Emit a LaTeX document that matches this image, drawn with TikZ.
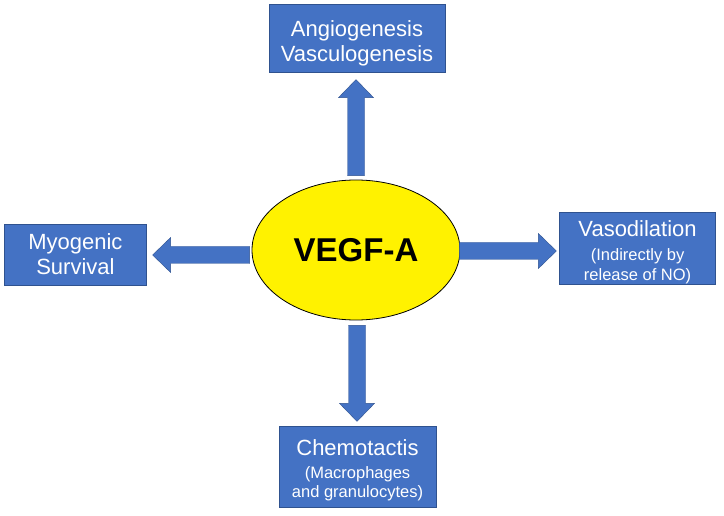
\documentclass[tikz,border=0pt]{standalone}
\usepackage{fontspec}
\setmainfont{Liberation Sans}
\usetikzlibrary{calc,positioning,shapes.geometric}
\definecolor{boxblue}{HTML}{4472C4}
\definecolor{boxline}{HTML}{2F528F}
\newcommand\bigtxt{\fontsize{22}{25}\selectfont}
\newcommand\subtxt{\fontsize{16.5}{19}\selectfont}
\tikzset{
    effect/.style={
        rectangle,
        fill=boxblue,
        draw=boxline, thin,
        text=white,
        align=center,
        inner sep=0pt,
        font=\bigtxt
    },
    center/.style={
        ellipse,
        fill=yellow,
        draw=black, thick,
        minimum width=208pt,
        minimum height=140pt,
        inner sep=0pt,
        font=\fontsize{33}{36}\selectfont\bfseries
    },
    fatarrow/.style={fill=boxblue, draw=boxline, thin}
}
% block arrow from #1 to #2
\newcommand\fatarrow[2]{%
    \coordinate (#1-h) at ($(#2)!18pt!(#1)$);
    \draw[fatarrow] ($(#1)!8.5pt!90:(#2)$) -- ($(#1-h)!8.5pt!-90:(#1)$)
        -- ($(#1-h)!17.5pt!-90:(#1)$) -- (#2) -- ($(#1-h)!17.5pt!90:(#1)$)
        -- ($(#1-h)!8.5pt!90:(#1)$) -- ($(#1)!8.5pt!-90:(#2)$) -- cycle;}
\begin{document}
\begin{tikzpicture}
    \useasboundingbox (0,0) rectangle (724pt,-516pt);

    \node[center] (vegf) at (356pt,-250pt) {VEGF-A};

    \node[effect, minimum width=176pt, minimum height=68pt, above=107pt of vegf, xshift=1pt] (angio)
        {\rule{0pt}{26pt}Angiogenesis\\Vasculogenesis};
    \node[effect, minimum width=142pt, minimum height=61pt, left=105pt of vegf, yshift=-4.5pt] (myo)
        {Myogenic\\Survival};
    \node[effect, minimum width=156pt, minimum height=72pt, right=99pt of vegf, yshift=2pt] (vaso)
        {\rule{0pt}{25pt}Vasodilation\\[-1pt] \subtxt (Indirectly by\\[-5pt] \subtxt release of NO)};
    \node[effect, minimum width=157pt, minimum height=81pt, below=106pt of vegf, xshift=1.5pt] (chemo)
        {\rule{0pt}{23pt}Chemotactis\\[-2pt] \subtxt (Macrophages\\[-6pt] \subtxt and granulocytes)};

    % arrow ends
    \path (vegf.north) ++(0,4pt) coordinate (upS);
    \path (upS |- angio.south) ++(0,-7pt) coordinate (upE);
    \path (vegf.west) ++(-2pt,-5pt) coordinate (leftS);
    \path (leftS -| myo.east) ++(6pt,0) coordinate (leftE);
    \path (vegf.east) ++(-1pt,-1pt) coordinate (rightS);
    \path (rightS -| vaso.west) ++(-3pt,0) coordinate (rightE);
    \path (vegf.south) ++(1pt,-5pt) coordinate (downS);
    \path (downS |- chemo.north) ++(0,5pt) coordinate (downE);

    \fatarrow{upS}{upE}
    \fatarrow{leftS}{leftE}
    \fatarrow{rightS}{rightE}
    \fatarrow{downS}{downE}
\end{tikzpicture}
\end{document}
